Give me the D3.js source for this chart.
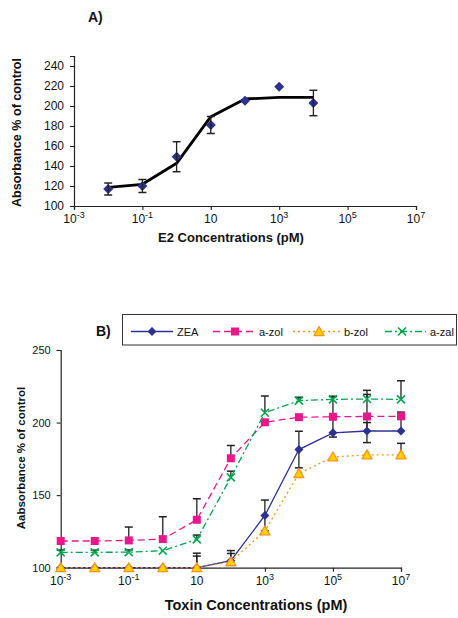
<!DOCTYPE html>
<html>
<head>
<meta charset="utf-8">
<script src="https://cdn.jsdelivr.net/npm/d3@7"></script>
<style>
  html, body { margin: 0; padding: 0; background: #fff; }
  svg { display: block; font-family: "Liberation Sans", Arial, Helvetica, sans-serif; }
</style>
</head>
<body>
<svg id="chart" width="458" height="618"></svg>
<script>
// ---- Panel A: E2 dose response ----
const e2Conc = [0.01, 0.1, 1, 10, 100, 1000, 10000];
const e2Mean = [117, 120, 149.3, 181, 205.3, 219.3, 203];
const e2Err  = [6, 6.5, 15, 8.5, 0, 0, 12.7];
const e2Fit  = [118.7, 121.7, 142.7, 189.3, 207, 208.7, 208.7];

// ---- Panel B: toxin dose responses ----
const toxinConc = [1e-3, 1e-2, 1e-1, 1, 10, 100, 1e3, 1e4, 1e5, 1e6, 1e7];
const seriesNames = ["ZEA", "a-zol", "b-zol", "a-zal"];
const zeaMean  = [100, 100, 100, 100, 100, 104.8, 136, 181.4, 192.9, 194.2, 194.2];
const zeaUp    = [0, 0, 0, 0, 10, 7, 10.6, 12.6, 0, 5.8, 13];
const zeaDown  = [0, 0, 0, 0, 0, 0, 10.6, 12.6, 0, 0, 0];
const azolMean = [118.4, 118.4, 118.8, 119.7, 133, 175.4, 200.2, 203.7, 204, 204.2, 204.3];
const azolUp   = [0, 0, 9.2, 15.4, 14.5, 8.8, 0, 0, 14, 18, 0];
const azolDown = [0, 0, 0, 0, 0, 0, 0, 0, 14, 18, 0];
const bzolMean = [100, 100, 100, 100, 100, 104.1, 125.4, 164.9, 176.3, 177.7, 177.7];
const bzolUp   = [0, 0, 0, 0, 8, 5.7, 0, 0, 0, 0, 8];
const bzolDown = [0, 0, 0, 0, 0, 0, 0, 0, 0, 0, 0];
const azalMean = [110.6, 110.6, 110.7, 111.7, 119.5, 162.2, 206.8, 215.1, 216, 216.2, 216];
const azalUp   = [1.5, 1.5, 1.5, 0, 3, 4.3, 11.5, 2.3, 2, 3.2, 12.8];
const azalDown = [0, 0, 0, 0, 0, 0, 0, 0, 0, 0, 0];

// ---- Axis ticks ----
const xTickExps = [-3, -1, 1, 3, 5, 7];
const yTicksA = [100, 120, 140, 160, 180, 200, 220, 240];
const yTicksB = [100, 150, 200, 250];

const svg = d3.select("#chart");
const INK = "#222";

// square diamond (rotated square) of half-diagonal r
const diamondPath = r => `M0,${-r}L${r},0L0,${r}L${-r},0Z`;

function drawLogXAxis(g, x, y0) {
  const axis = d3.axisBottom(x)
    .tickValues(xTickExps.map(e => Math.pow(10, e)))
    .tickSize(4).tickFormat("");
  const ag = g.append("g").attr("transform", `translate(0,${y0})`).call(axis);
  ag.select(".domain").attr("stroke", INK).attr("stroke-width", 1.2);
  ag.selectAll(".tick line").attr("stroke", INK).attr("stroke-width", 1.1);
  xTickExps.forEach(e => {
    const t = g.append("text")
      .attr("x", x(Math.pow(10, e)))
      .attr("y", y0 + 17)
      .attr("text-anchor", "middle")
      .attr("font-size", 12)
      .attr("fill", "#111");
    t.append("tspan").text("10");
    if (e !== 1) {
      t.append("tspan").attr("dy", -5).attr("font-size", 9).text(String(e));
    }
  });
}

function drawYAxis(g, y, x0, ticks, fontSize) {
  const axis = d3.axisLeft(y).tickValues(ticks).tickSize(4).tickPadding(6);
  const ag = g.append("g").attr("transform", `translate(${x0},0)`).call(axis);
  ag.select(".domain").attr("stroke", INK).attr("stroke-width", 1.2);
  ag.selectAll(".tick line").attr("stroke", INK).attr("stroke-width", 1.1);
  ag.selectAll(".tick text")
    .attr("font-size", fontSize)
    .attr("fill", "#111")
    .attr("font-family", "Liberation Sans, Arial, sans-serif");
}

function errorBars(g, xs, ys, up, down, x, y) {
  xs.forEach((c, i) => {
    const cx = x(c);
    [[up[i], 1], [down[i], -1]].forEach(([e, s]) => {
      if (!e) return;
      const y1 = y(ys[i]), y2 = y(ys[i] + s * e);
      g.append("line").attr("x1", cx).attr("x2", cx).attr("y1", y1).attr("y2", y2)
        .attr("stroke", INK).attr("stroke-width", 1.3);
      g.append("line").attr("x1", cx - 4).attr("x2", cx + 4).attr("y1", y2).attr("y2", y2)
        .attr("stroke", INK).attr("stroke-width", 1.5);
    });
  });
}

// ================= Panel A =================
{
  const x = d3.scaleLog().domain([1e-3, 1e7]).range([74, 416]);
  const y = d3.scaleLinear().domain([100, 250]).range([206, 56]);
  const g = svg.append("g");

  g.append("text").attr("x", 88).attr("y", 22).attr("font-size", 14)
    .attr("font-weight", "bold").attr("fill", "#111").text("A)");

  drawYAxis(g, y, 74, yTicksA, 12);
  drawLogXAxis(g, x, 206);

  g.append("text")
    .attr("transform", `translate(21,132.5) rotate(-90)`)
    .attr("text-anchor", "middle").attr("font-size", 12.6).attr("font-weight", "bold")
    .attr("fill", "#111").text("Absorbance % of control");
  g.append("text").attr("x", 231).attr("y", 242).attr("text-anchor", "middle")
    .attr("font-size", 13).attr("font-weight", "bold").attr("fill", "#111")
    .text("E2 Concentrations (pM)");

  const line = d3.line().x((d, i) => x(e2Conc[i])).y(d => y(d));
  g.append("path").datum(e2Fit).attr("d", line)
    .attr("fill", "none").attr("stroke", "#000").attr("stroke-width", 2.8)
    .attr("stroke-linejoin", "round");

  g.selectAll("path.pt").data(e2Mean).join("path").attr("class", "pt")
    .attr("d", diamondPath(5))
    .attr("transform", (d, i) => `translate(${x(e2Conc[i])},${y(d)})`)
    .attr("fill", "#2E3192");

  errorBars(g, e2Conc, e2Mean, e2Err, e2Err, x, y);
}

// ================= Panel B =================
{
  const x = d3.scaleLog().domain([1e-3, 1e7]).range([60.7, 401]);
  const y = d3.scaleLinear().domain([100, 250]).range([567.7, 350]);
  const g = svg.append("g");

  drawYAxis(g, y, 60.7, yTicksB, 11);
  drawLogXAxis(g, x, 567.7);

  g.append("text")
    .attr("transform", `translate(25,458) rotate(-90)`)
    .attr("text-anchor", "middle").attr("font-size", 11.5).attr("font-weight", "bold")
    .attr("fill", "#111").text("Aabsorbance % of control");
  g.append("text").attr("x", 256).attr("y", 610).attr("text-anchor", "middle")
    .attr("font-size", 14.5).attr("font-weight", "bold").attr("fill", "#111")
    .text("Toxin Concentrations (pM)");

  const styles = [
    { color: "#2E3192", dash: null,        marker: "diamond" },
    { color: "#EC168C", dash: "7,4",       marker: "square" },
    { color: "#F7941D", dash: "2,3",       marker: "triangle" },
    { color: "#00A651", dash: "7,3,2,3",   marker: "cross" }
  ];
  const means = [zeaMean, azolMean, bzolMean, azalMean];
  const ups = [zeaUp, azolUp, bzolUp, azalUp];
  const downs = [zeaDown, azolDown, bzolDown, azalDown];

  function marker(sel, kind, color) {
    if (kind === "diamond") {
      sel.append("path").attr("d", diamondPath(4.5)).attr("fill", color);
    } else if (kind === "square") {
      sel.append("rect").attr("x", -4).attr("y", -4).attr("width", 8).attr("height", 8)
        .attr("fill", color);
    } else if (kind === "triangle") {
      sel.append("path").attr("d", "M0,-5L5,4L-5,4Z")
        .attr("fill", "#FFD200").attr("stroke", color).attr("stroke-width", 1.3)
        .attr("stroke-linejoin", "round");
    } else {
      sel.append("path").attr("d", "M-4,-4L4,4M-4,4L4,-4")
        .attr("stroke", color).attr("stroke-width", 1.6).attr("fill", "none");
    }
  }

  // error bars beneath the curves
  means.forEach((m, k) => errorBars(g, toxinConc, m, ups[k], downs[k], x, y));

  means.forEach((m, k) => {
    const st = styles[k];
    const line = d3.line().x((d, i) => x(toxinConc[i])).y(d => y(d));
    g.append("path").datum(m).attr("d", line)
      .attr("fill", "none").attr("stroke", st.color).attr("stroke-width", 1.3)
      .attr("stroke-dasharray", st.dash);
    m.forEach((v, i) => {
      const mg = g.append("g").attr("transform", `translate(${x(toxinConc[i])},${y(v)})`);
      marker(mg, st.marker, st.color);
    });
  });

  // "B)" label and legend
  g.append("text").attr("x", 96).attr("y", 336).attr("font-size", 14)
    .attr("font-weight", "bold").attr("fill", "#111").text("B)");

  g.append("rect").attr("x", 122.5).attr("y", 314.5).attr("width", 334).attr("height", 30.5)
    .attr("fill", "#fff").attr("stroke", "#333").attr("stroke-width", 1);

  const legendItems = [
    { x1: 131, x2: 173, mx: 152, tx: 177 },
    { x1: 213, x2: 254, mx: 235, tx: 259 },
    { x1: 293, x2: 343, mx: 319, tx: 344 },
    { x1: 385, x2: 426, mx: 402, tx: 430 }
  ];
  legendItems.forEach((it, k) => {
    const st = styles[k];
    const ly = 331.5;
    g.append("line").attr("x1", it.x1).attr("x2", it.x2).attr("y1", ly).attr("y2", ly)
      .attr("stroke", st.color).attr("stroke-width", 1.3).attr("stroke-dasharray", st.dash);
    marker(g.append("g").attr("transform", `translate(${it.mx},${ly})`), st.marker, st.color);
    g.append("text").attr("x", it.tx).attr("y", ly + 4).attr("font-size", 11)
      .attr("fill", "#111").text(seriesNames[k]);
  });
}
</script>
</body>
</html>
